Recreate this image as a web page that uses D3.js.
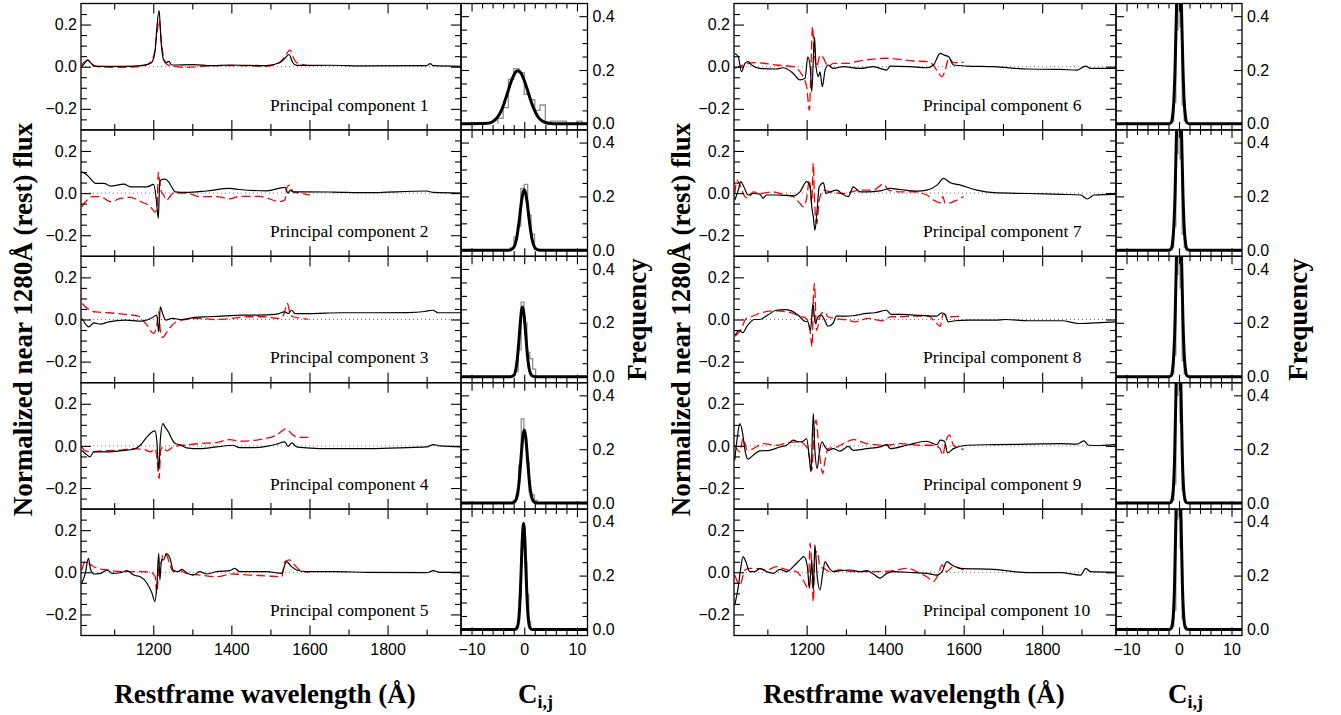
<!DOCTYPE html>
<html>
<head>
<meta charset="utf-8">
<script src="https://cdn.jsdelivr.net/npm/d3@7"></script>
<style>
  body { margin: 0; background: #fff; }
  svg { display: block; }
</style>
</head>
<body>
<svg id="pcaFigure" width="1341" height="715"></svg>
<script>
// ---- spectra: [restframe wavelength (A), normalized flux] ----
const pc1Black = [[1017,0.0],[1025,0.018],[1032,0.032],[1040,0.018],[1048,0.003],[1100,0.002],[1150,0.003],[1184,0.01],[1196,0.02],[1205,0.08],[1209,0.18],[1215,0.266],[1220,0.12],[1226,0.035],[1234,0.02],[1240,0.025],[1247,0.008],[1302,0.01],[1350,0.005],[1396,0.008],[1490,0.005],[1524,0.02],[1537,0.04],[1548,0.058],[1557,0.02],[1567,0.006],[1652,0.007],[1746,0.004],[1900,0.005],[1909,0.015],[1917,0.005],[1988,0.002]];
const pc1Red = [[1017,0.01],[1032,0.03],[1045,0.01],[1057,0.0],[1091,-0.003],[1150,-0.002],[1184,0.01],[1201,0.05],[1209,0.15],[1215,0.22],[1222,0.1],[1230,0.02],[1243,0.005],[1285,-0.003],[1353,0.005],[1404,0.005],[1490,0.002],[1524,0.02],[1541,0.06],[1550,0.08],[1557,0.05],[1567,0.02],[1584,0.01],[1597,0.005]];

const pc2Black = [[1017,0.101],[1031,0.085],[1053,0.046],[1074,0.046],[1091,0.033],[1125,0.043],[1142,0.03],[1184,0.03],[1201,0.041],[1208,-0.033],[1213,-0.12],[1216,0.03],[1219,0.062],[1230,0.066],[1239,0.054],[1247,0.03],[1256,0.006],[1285,0.003],[1336,0.01],[1396,0.022],[1421,0.017],[1490,0.011],[1537,0.027],[1545,0.0],[1551,0.014],[1558,0.006],[1575,0.006],[1660,0.005],[1745,0.002],[1900,0.01],[1917,0.003],[1988,0.0]];
const pc2Red = [[1017,-0.065],[1031,-0.033],[1044,-0.017],[1065,-0.017],[1091,-0.041],[1116,-0.025],[1142,-0.02],[1167,-0.04],[1193,-0.065],[1205,-0.09],[1210,-0.06],[1213,0.1],[1216,0.06],[1219,0.014],[1226,-0.008],[1234,-0.033],[1243,-0.016],[1251,0.0],[1285,0.0],[1319,-0.017],[1362,-0.017],[1396,-0.027],[1421,-0.016],[1472,-0.016],[1524,-0.04],[1537,-0.032],[1543,0.03],[1549,0.038],[1558,0.006],[1575,0.0],[1601,-0.01]];

const pc3Black = [[1018,0.005],[1035,-0.035],[1048,-0.016],[1065,-0.022],[1086,-0.011],[1128,-0.003],[1171,-0.008],[1197,0.008],[1209,0.021],[1214,-0.059],[1218,0.06],[1224,0.028],[1232,-0.003],[1248,0.005],[1273,0.0],[1307,0.01],[1341,0.013],[1384,0.017],[1427,0.021],[1469,0.021],[1512,0.024],[1537,0.036],[1546,0.028],[1554,0.044],[1563,0.028],[1597,0.028],[1682,0.032],[1767,0.032],[1852,0.033],[1895,0.038],[1916,0.044],[1929,0.032],[1988,0.032]];
const pc3Red = [[1018,0.076],[1035,0.047],[1052,0.036],[1086,0.032],[1128,0.024],[1162,0.016],[1184,-0.027],[1201,-0.066],[1209,-0.027],[1214,0.036],[1218,-0.05],[1224,-0.085],[1235,-0.06],[1248,-0.027],[1273,-0.003],[1316,0.005],[1358,0.0],[1401,0.005],[1443,0.013],[1486,0.013],[1520,0.005],[1533,0.02],[1544,0.076],[1550,0.028],[1558,0.013],[1580,0.005],[1597,0.002]];

const pc4Black = [[1017,-0.021],[1026,-0.036],[1038,-0.052],[1048,-0.028],[1082,-0.028],[1125,-0.021],[1150,-0.016],[1167,0.003],[1184,0.043],[1197,0.066],[1204,0.071],[1209,0.027],[1214,-0.116],[1218,0.027],[1225,0.106],[1230,0.09],[1239,0.066],[1247,0.035],[1256,0.011],[1273,0.003],[1285,-0.009],[1319,-0.013],[1362,-0.005],[1404,0.003],[1421,-0.008],[1455,-0.008],[1490,-0.002],[1515,0.008],[1537,0.019],[1545,-0.002],[1555,0.014],[1567,-0.005],[1592,-0.009],[1660,-0.013],[1745,-0.013],[1830,-0.009],[1900,-0.005],[1917,0.006],[1934,0.0],[1988,-0.005]];
const pc4Red = [[1017,-0.005],[1026,-0.024],[1040,-0.028],[1065,-0.024],[1108,-0.021],[1150,-0.013],[1176,-0.017],[1193,-0.028],[1205,-0.013],[1209,-0.052],[1215,-0.155],[1219,-0.021],[1225,-0.005],[1234,-0.024],[1251,-0.005],[1277,0.003],[1319,0.011],[1362,0.016],[1396,0.03],[1421,0.022],[1472,0.03],[1515,0.051],[1532,0.074],[1541,0.082],[1550,0.066],[1558,0.051],[1575,0.04],[1597,0.04]];

const pc5Black = [[1017,-0.052],[1026,-0.005],[1034,0.066],[1040,0.011],[1048,-0.008],[1065,-0.005],[1082,0.011],[1095,-0.005],[1116,-0.002],[1133,0.008],[1150,-0.013],[1167,-0.021],[1184,-0.052],[1197,-0.1],[1204,-0.139],[1209,-0.068],[1214,0.09],[1217,-0.036],[1221,0.059],[1226,0.059],[1234,0.087],[1243,0.066],[1251,0.011],[1264,0.003],[1273,0.014],[1285,-0.002],[1302,-0.013],[1319,0.003],[1336,-0.008],[1362,0.003],[1396,0.008],[1409,0.019],[1421,0.003],[1490,0.003],[1529,-0.005],[1541,0.051],[1554,0.027],[1567,0.011],[1592,0.003],[1660,0.003],[1745,0.0],[1900,-0.002],[1917,0.008],[1934,0.0],[1988,0.0]];
const pc5Red = [[1017,0.011],[1026,0.051],[1040,0.035],[1057,0.019],[1082,0.011],[1116,0.003],[1167,0.003],[1193,0.0],[1205,-0.021],[1209,-0.1],[1215,0.027],[1219,0.035],[1226,0.09],[1234,0.082],[1243,0.035],[1251,0.003],[1268,0.008],[1285,-0.005],[1319,-0.013],[1362,-0.021],[1404,-0.008],[1447,-0.013],[1490,-0.017],[1529,-0.021],[1537,0.051],[1549,0.059],[1558,0.043],[1575,0.011],[1597,0.0]];

const pc6Black = [[1017,0.063],[1026,0.047],[1034,-0.024],[1043,0.016],[1051,0.024],[1060,0.008],[1081,-0.008],[1123,-0.011],[1140,-0.005],[1166,-0.032],[1183,-0.063],[1196,-0.055],[1203,0.047],[1209,0.0],[1213,-0.119],[1217,0.032],[1220,0.142],[1224,0.0],[1230,-0.047],[1234,-0.024],[1240,-0.095],[1247,-0.016],[1255,0.008],[1268,-0.008],[1294,0.0],[1336,-0.008],[1370,0.0],[1404,-0.016],[1413,0.003],[1464,0.0],[1506,-0.005],[1523,0.008],[1540,0.063],[1551,0.055],[1562,0.047],[1574,0.008],[1609,0.003],[1677,0.0],[1762,-0.011],[1847,-0.013],[1889,-0.016],[1911,0.003],[1923,-0.008],[1990,-0.008]];
const pc6Red = [[1017,-0.008],[1038,0.008],[1072,0.019],[1123,0.008],[1166,0.0],[1183,-0.024],[1200,-0.095],[1207,-0.206],[1210,-0.079],[1215,0.19],[1219,0.079],[1226,0.0],[1234,0.055],[1243,0.04],[1255,0.0],[1268,0.016],[1302,0.016],[1336,0.028],[1404,0.04],[1472,0.027],[1506,0.024],[1523,0.008],[1536,-0.032],[1545,-0.047],[1553,-0.016],[1562,0.04],[1574,0.019],[1600,0.021]];

const pc7Black = [[1017,-0.033],[1026,0.014],[1032,0.054],[1040,0.03],[1051,-0.009],[1064,-0.002],[1081,-0.005],[1089,-0.025],[1098,-0.009],[1123,-0.009],[1166,-0.013],[1183,0.006],[1200,0.054],[1209,0.03],[1213,-0.065],[1217,-0.112],[1221,-0.176],[1226,-0.097],[1232,0.03],[1243,0.049],[1249,-0.002],[1260,0.006],[1277,0.014],[1289,-0.002],[1306,-0.017],[1319,0.03],[1336,0.006],[1353,0.006],[1387,0.011],[1413,0.022],[1438,0.017],[1481,0.009],[1506,0.014],[1532,0.038],[1549,0.07],[1566,0.049],[1592,0.038],[1634,0.014],[1677,0.002],[1762,-0.002],[1847,-0.006],[1898,-0.009],[1915,-0.028],[1932,-0.009],[1990,-0.006]];
const pc7Red = [[1017,-0.002],[1023,0.062],[1030,0.038],[1043,-0.017],[1051,-0.025],[1064,0.006],[1081,-0.002],[1115,0.006],[1140,-0.006],[1166,-0.017],[1183,-0.049],[1191,-0.065],[1200,-0.025],[1207,0.062],[1213,-0.049],[1217,0.141],[1220,-0.033],[1226,-0.144],[1232,-0.033],[1243,0.014],[1260,0.006],[1294,-0.002],[1336,0.014],[1370,0.014],[1396,0.043],[1409,0.014],[1438,0.006],[1472,0.006],[1506,-0.009],[1523,-0.033],[1540,-0.046],[1547,-0.017],[1553,-0.049],[1566,-0.046],[1583,-0.033],[1600,-0.017]];

const pc8Black = [[1018,-0.074],[1029,-0.051],[1037,-0.063],[1050,-0.027],[1067,0.0],[1080,0.0],[1101,0.021],[1122,0.044],[1144,0.047],[1161,0.041],[1178,0.021],[1195,-0.008],[1203,-0.011],[1210,-0.051],[1216,0.076],[1222,-0.019],[1229,0.013],[1237,0.021],[1246,-0.003],[1254,-0.032],[1267,-0.019],[1276,0.016],[1297,0.016],[1323,0.019],[1348,0.028],[1374,0.032],[1403,0.044],[1416,0.024],[1442,0.024],[1476,0.021],[1510,0.017],[1531,0.016],[1544,0.032],[1552,0.025],[1561,-0.011],[1578,-0.006],[1612,-0.003],[1680,-0.003],[1706,0.0],[1765,-0.006],[1850,-0.006],[1893,-0.019],[1936,-0.016],[1988,-0.011]];
const pc8Red = [[1018,-0.079],[1033,-0.047],[1046,0.005],[1059,0.013],[1084,0.032],[1118,0.041],[1152,0.036],[1182,0.016],[1199,0.005],[1208,-0.043],[1214,-0.13],[1217,0.092],[1220,0.171],[1225,-0.051],[1237,0.028],[1246,0.036],[1254,0.013],[1271,0.005],[1306,-0.003],[1323,-0.011],[1357,0.005],[1391,-0.006],[1416,0.013],[1442,0.013],[1476,0.016],[1510,0.016],[1527,-0.011],[1540,-0.032],[1548,0.028],[1561,0.013],[1595,0.016]];

const pc9Black = [[1017,-0.068],[1023,0.035],[1030,0.106],[1037,0.059],[1043,-0.021],[1051,-0.063],[1064,-0.044],[1081,-0.024],[1106,-0.021],[1132,-0.005],[1149,0.003],[1166,0.027],[1179,0.019],[1191,0.022],[1200,0.035],[1207,-0.06],[1211,-0.123],[1217,0.153],[1221,-0.021],[1227,-0.108],[1232,-0.036],[1239,0.019],[1247,-0.005],[1255,-0.021],[1268,-0.013],[1285,-0.025],[1306,-0.002],[1319,-0.021],[1353,-0.013],[1387,-0.005],[1404,0.006],[1413,-0.013],[1455,0.003],[1506,0.022],[1532,0.006],[1540,0.027],[1551,0.022],[1559,-0.033],[1574,-0.013],[1609,0.003],[1677,0.006],[1762,0.008],[1847,0.011],[1889,0.008],[1906,0.024],[1919,0.003],[1949,0.002],[1990,0.006]];
const pc9Red = [[1017,0.003],[1030,-0.028],[1038,0.035],[1049,-0.021],[1064,-0.013],[1089,0.011],[1123,0.003],[1149,0.014],[1183,0.019],[1200,-0.005],[1207,-0.052],[1213,-0.116],[1219,0.059],[1224,0.122],[1231,-0.005],[1236,-0.084],[1241,-0.131],[1247,-0.068],[1255,-0.013],[1277,-0.005],[1294,0.011],[1319,0.03],[1353,0.011],[1404,0.003],[1438,0.011],[1489,0.003],[1523,0.003],[1540,-0.013],[1547,-0.044],[1553,0.011],[1564,0.051],[1574,0.003],[1591,-0.013],[1600,-0.016]];

const pc10Black = [[1017,-0.155],[1026,-0.068],[1031,0.003],[1038,0.074],[1045,0.051],[1055,0.003],[1068,0.003],[1081,0.019],[1098,0.003],[1115,-0.005],[1132,0.014],[1149,0.003],[1166,0.027],[1183,0.059],[1193,0.074],[1202,0.027],[1207,-0.076],[1213,0.059],[1217,-0.084],[1221,0.13],[1227,-0.021],[1234,-0.084],[1241,-0.005],[1247,0.051],[1255,0.027],[1268,0.003],[1285,0.008],[1311,0.011],[1336,0.003],[1353,0.008],[1370,-0.008],[1387,-0.028],[1404,-0.005],[1421,0.003],[1472,-0.002],[1506,-0.005],[1532,-0.013],[1545,0.003],[1557,0.051],[1570,0.035],[1591,0.019],[1677,0.014],[1762,-0.002],[1847,-0.002],[1898,-0.013],[1911,0.019],[1923,0.003],[1990,0.0]];
const pc10Red = [[1017,-0.013],[1030,-0.06],[1043,0.011],[1055,0.019],[1072,0.019],[1098,0.011],[1123,0.027],[1149,0.011],[1174,0.003],[1191,-0.036],[1204,-0.076],[1209,0.138],[1213,0.027],[1217,-0.139],[1221,0.09],[1227,0.098],[1234,0.027],[1243,0.019],[1260,0.003],[1285,0.011],[1319,0.003],[1353,0.003],[1387,0.003],[1421,0.008],[1455,0.019],[1489,-0.005],[1506,-0.021],[1523,-0.044],[1536,-0.005],[1545,0.035],[1556,0.003],[1574,0.027],[1591,0.019],[1600,0.011]];

// ---- coefficient histograms: [left bin edge, frequency]; last entry closes the last bin ----
const pc1Hist = [[-5,0.02],[-4,0.06],[-3,0.165],[-2,0.205],[-1,0.19],[0,0.11],[1,0.09],[2,0.05],[3,0.07],[4,0.005],[5,0.01],[6,0.01],[7,0.01],[8,0.0],[9,0.0],[10,0.01],[11,0.0]];
const pc2Hist = [[-2.6,0.01],[-1.95,0.05],[-1.3,0.09],[-0.65,0.23],[0,0.245],[0.65,0.13],[1.3,0.06],[1.95,0]];
const pc3Hist = [[-2.25,0.005],[-1.7,0.02],[-1.15,0.1],[-0.6,0.277],[-0.05,0.2],[0.5,0.09],[1.05,0.067],[1.6,0.028],[2.15,0]];
const pc4Hist = [[-2.07,0.01],[-1.57,0.03],[-1.07,0.14],[-0.57,0.313],[-0.07,0.24],[0.43,0.15],[0.93,0.04],[1.43,0.03],[1.93,0.01],[2.43,0]];
const pc5Hist = [[-1.6,0.01],[-1.25,0.03],[-0.9,0.12],[-0.55,0.3],[-0.2,0.38],[0.15,0.25],[0.5,0.13],[0.85,0.03],[1.2,0]];
const pc6Hist = [[-1.4,0.01],[-1.0,0.08],[-0.6,0.35],[-0.2,0.72],[0.2,0.36],[0.6,0.07],[1.0,0.01],[1.4,0]];
const pc7Hist = [[-1.4,0.01],[-1.0,0.09],[-0.6,0.36],[-0.2,0.74],[0.2,0.34],[0.6,0.06],[1.0,0.01],[1.4,0]];
const pc8Hist = [[-1.4,0.01],[-1.0,0.08],[-0.6,0.38],[-0.2,0.76],[0.2,0.33],[0.6,0.06],[1.0,0.01],[1.4,0]];
const pc9Hist = [[-1.4,0.01],[-1.0,0.07],[-0.6,0.4],[-0.2,0.8],[0.2,0.3],[0.6,0.05],[1.0,0.01],[1.4,0]];
const pc10Hist = [[-1.4,0.01],[-1.0,0.07],[-0.6,0.41],[-0.2,0.82],[0.2,0.3],[0.6,0.04],[1.0,0.01],[1.4,0]];

// ---- fitted curves over the histograms: [C_ij, frequency] ----
const pc1Fit = [[-12,0],[-7,0.002],[-6,0.008],[-5,0.027],[-4.5,0.043],[-4,0.066],[-3.5,0.095],[-3,0.126],[-2.5,0.156],[-2,0.18],[-1.6,0.193],[-1.2,0.197],[-0.6,0.188],[0,0.161],[0.5,0.132],[1,0.101],[1.5,0.072],[2,0.048],[2.5,0.029],[3,0.017],[4,0.005],[5,0.001],[6,0],[12,0]];
const pc2Fit = [[-12,0],[-3,0],[-2.5,0.002],[-2,0.01],[-1.5,0.039],[-1,0.103],[-0.5,0.185],[0,0.225],[0.5,0.185],[1,0.103],[1.5,0.039],[2,0.01],[2.5,0.002],[3,0],[12,0]];
const pc3Fit = [[-12,0],[-2.6,0],[-2,0.005],[-1.5,0.038],[-1.25,0.078],[-1,0.137],[-0.75,0.2],[-0.5,0.248],[-0.32,0.259],[0,0.225],[0.25,0.165],[0.5,0.102],[0.75,0.053],[1,0.023],[1.5,0.003],[2,0],[12,0]];
const pc4Fit = [[-12,0],[-2.5,0],[-2,0.002],[-1.5,0.015],[-1.25,0.036],[-1,0.074],[-0.75,0.131],[-0.5,0.196],[-0.25,0.25],[0,0.271],[0.25,0.25],[0.5,0.196],[0.75,0.131],[1,0.074],[1.25,0.036],[1.5,0.015],[2,0.002],[2.5,0],[12,0]];
const pc5Fit = [[-12,0],[-1.8,0],[-1.38,0.005],[-1.13,0.023],[-0.88,0.08],[-0.63,0.194],[-0.38,0.33],[-0.13,0.394],[0.12,0.33],[0.37,0.194],[0.62,0.08],[0.87,0.023],[1.12,0.005],[1.5,0],[12,0]];
const pc6Fit = [[-12,0],[-2,0],[-1.5,0.005],[-1.25,0.024],[-1,0.08],[-0.75,0.207],[-0.5,0.41],[-0.25,0.61],[0,0.7],[0.25,0.61],[0.5,0.41],[0.75,0.207],[1,0.08],[1.25,0.024],[1.5,0.005],[2,0],[12,0]];
const pc7Fit = [[-12,0],[-2,0],[-1.5,0.005],[-1.25,0.025],[-1,0.082],[-0.75,0.212],[-0.5,0.42],[-0.25,0.63],[0,0.72],[0.25,0.63],[0.5,0.42],[0.75,0.212],[1,0.082],[1.25,0.025],[1.5,0.005],[2,0],[12,0]];
const pc8Fit = [[-12,0],[-2,0],[-1.5,0.004],[-1.25,0.022],[-1,0.078],[-0.75,0.21],[-0.5,0.43],[-0.25,0.65],[0,0.75],[0.25,0.65],[0.5,0.43],[0.75,0.21],[1,0.078],[1.25,0.022],[1.5,0.004],[2,0],[12,0]];
const pc9Fit = [[-12,0],[-1.9,0],[-1.6,0.002],[-1.35,0.011],[-1.1,0.047],[-0.85,0.16],[-0.6,0.39],[-0.35,0.67],[-0.1,0.8],[0.15,0.67],[0.4,0.39],[0.65,0.16],[0.9,0.047],[1.15,0.011],[1.4,0.002],[1.8,0],[12,0]];
const pc10Fit = [[-12,0],[-1.9,0],[-1.6,0.002],[-1.35,0.011],[-1.1,0.048],[-0.85,0.165],[-0.6,0.4],[-0.35,0.68],[-0.1,0.82],[0.15,0.68],[0.4,0.4],[0.65,0.165],[0.9,0.048],[1.15,0.011],[1.4,0.002],[1.8,0],[12,0]];

const componentLabels = ['Principal component 1','Principal component 2','Principal component 3','Principal component 4','Principal component 5',
                         'Principal component 6','Principal component 7','Principal component 8','Principal component 9','Principal component 10'];

const specTicksMajor = [1200, 1400, 1600, 1800];
const specTicksMinor = [1100, 1300, 1500, 1700, 1900];
const fluxTicksMajor = [-0.2, 0, 0.2];
const fluxTicksMinor = [-0.25, -0.15, -0.1, -0.05, 0.05, 0.1, 0.15, 0.25];
const coefTicksMajor = [-10, 0, 10];
const coefTicksMinor = [-8, -6, -4, -2, 2, 4, 6, 8];
const freqTicksMajor = [0, 0.2, 0.4];
const freqTicksMinor = [0.05, 0.1, 0.15, 0.25, 0.3, 0.35];

const components = [
    { black: pc1Black, red: pc1Red, hist: pc1Hist, fit: pc1Fit },
    { black: pc2Black, red: pc2Red, hist: pc2Hist, fit: pc2Fit },
    { black: pc3Black, red: pc3Red, hist: pc3Hist, fit: pc3Fit },
    { black: pc4Black, red: pc4Red, hist: pc4Hist, fit: pc4Fit },
    { black: pc5Black, red: pc5Red, hist: pc5Hist, fit: pc5Fit },
    { black: pc6Black, red: pc6Red, hist: pc6Hist, fit: pc6Fit },
    { black: pc7Black, red: pc7Red, hist: pc7Hist, fit: pc7Fit },
    { black: pc8Black, red: pc8Red, hist: pc8Hist, fit: pc8Fit },
    { black: pc9Black, red: pc9Red, hist: pc9Hist, fit: pc9Fit },
    { black: pc10Black, red: pc10Red, hist: pc10Hist, fit: pc10Fit },
].map((c, i) => ({ ...c, label: componentLabels[i] }));

// ---- layout ----
const svg = d3.select('svg#pcaFigure');
const SANS = "'Liberation Sans', Arial, Helvetica, sans-serif";
const SERIF = "'Liberation Serif', 'Times New Roman', Times, serif";
const rowTop = 3.5, rowH = 126.4, nRows = 5;

const blocks = [
    { specX: 81,  specW: 380, histW: 126.5, comps: components.slice(0, 5),
      yTitleX: 32, freqX: 646, xTitleX: 265, cTitleX: 518 },
    { specX: 734, specW: 382, histW: 126,   comps: components.slice(5),
      yTitleX: 690, freqX: 1307, xTitleX: 914, cTitleX: 1168 },
];

const fmtFlux = d3.format('.1f');

// inward ticks: negative tick size puts the tick inside the frame
function inwardTicks(g, axis, values, size, fmt, pad) {
    g.call(axis.tickValues(values).tickSize(-size).tickSizeOuter(0)
               .tickPadding(pad || 4).tickFormat(fmt || (() => '')));
    g.select('.domain').remove();
    g.selectAll('line').attr('stroke', '#000').attr('stroke-width', 1.1);
    g.attr('font-family', SANS).attr('font-size', 16);
    g.selectAll('text').attr('fill', '#000');
}

let clipId = 0;
function addClip(x, y, w, h) {
    const id = 'clip' + (clipId++);
    svg.append('clipPath').attr('id', id)
        .append('rect').attr('x', x).attr('y', y).attr('width', w).attr('height', h);
    return `url(#${id})`;
}

blocks.forEach(b => {
    const histX = b.specX + b.specW;

    b.comps.forEach((comp, r) => {
        const y0 = rowTop + r * rowH;
        const last = r === nRows - 1;

        // ----- spectrum panel -----
        const x = d3.scaleLinear().domain([1015, 1988]).range([b.specX, b.specX + b.specW]);
        const y = d3.scaleLinear().domain([-0.3, 0.3]).range([y0 + rowH, y0]);
        const clip = addClip(b.specX, y0, b.specW, rowH);
        const g = svg.append('g');

        g.append('line')
            .attr('x1', x.range()[0]).attr('x2', x.range()[1])
            .attr('y1', y(0)).attr('y2', y(0))
            .attr('stroke', '#777').attr('stroke-width', 1)
            .attr('stroke-dasharray', '1,3');

        const line = d3.line().curve(d3.curveMonotoneX).x(d => x(d[0])).y(d => y(d[1]));
        g.append('path').datum(comp.red)
            .attr('clip-path', clip)
            .attr('fill', 'none').attr('stroke', '#f00').attr('stroke-width', 1.3)
            .attr('stroke-dasharray', '9,4')
            .attr('d', line);
        g.append('path').datum(comp.black)
            .attr('clip-path', clip)
            .attr('fill', 'none').attr('stroke', '#000').attr('stroke-width', 1.2)
            .attr('d', line);

        g.append('text')
            .attr('x', b.specX + 189).attr('y', y0 + 107)
            .attr('font-family', SERIF).attr('font-size', 17.5)
            .text(comp.label);

        inwardTicks(g.append('g').attr('transform', `translate(${b.specX},0)`),
            d3.axisLeft(y), fluxTicksMajor, 10, d => d === 0 ? '0.0' : fmtFlux(d), 4);
        inwardTicks(g.append('g').attr('transform', `translate(${b.specX},0)`),
            d3.axisLeft(y), fluxTicksMinor, 6);
        inwardTicks(g.append('g').attr('transform', `translate(${histX},0)`),
            d3.axisRight(y), fluxTicksMajor, 10);
        inwardTicks(g.append('g').attr('transform', `translate(${histX},0)`),
            d3.axisRight(y), fluxTicksMinor, 6);
        inwardTicks(g.append('g').attr('transform', `translate(0,${y0})`),
            d3.axisTop(x), specTicksMajor, 10);
        inwardTicks(g.append('g').attr('transform', `translate(0,${y0})`),
            d3.axisTop(x), specTicksMinor, 6);
        inwardTicks(g.append('g').attr('transform', `translate(0,${y0 + rowH})`),
            d3.axisBottom(x), specTicksMajor, 10, last ? (d => d) : null, 8);
        inwardTicks(g.append('g').attr('transform', `translate(0,${y0 + rowH})`),
            d3.axisBottom(x), specTicksMinor, 6);

        g.append('rect')
            .attr('x', b.specX).attr('y', y0).attr('width', b.specW).attr('height', rowH)
            .attr('fill', 'none').attr('stroke', '#000').attr('stroke-width', 1.3);

        // ----- coefficient histogram panel -----
        const hx = d3.scaleLinear().domain([-12, 12]).range([histX, histX + b.histW]);
        const hy = d3.scaleLinear().domain([-0.0225, 0.447]).range([y0 + rowH, y0]);
        const hclip = addClip(histX, y0, b.histW, rowH);
        const h = svg.append('g');

        const hist = [[comp.hist[0][0], 0], ...comp.hist];
        h.append('path').datum(hist)
            .attr('clip-path', hclip)
            .attr('fill', 'none').attr('stroke', '#8c8c8c').attr('stroke-width', 1.3)
            .attr('d', d3.line().curve(d3.curveStepAfter).x(d => hx(d[0])).y(d => hy(d[1])));
        h.append('path').datum(comp.fit)
            .attr('clip-path', hclip)
            .attr('fill', 'none').attr('stroke', '#000').attr('stroke-width', 3)
            .attr('stroke-linejoin', 'round')
            .attr('d', d3.line().curve(d3.curveMonotoneX).x(d => hx(d[0])).y(d => hy(d[1])));

        inwardTicks(h.append('g').attr('transform', `translate(${histX},0)`),
            d3.axisLeft(hy), freqTicksMajor, 8);
        inwardTicks(h.append('g').attr('transform', `translate(${histX},0)`),
            d3.axisLeft(hy), freqTicksMinor, 6);
        inwardTicks(h.append('g').attr('transform', `translate(${histX + b.histW},0)`),
            d3.axisRight(hy), freqTicksMajor, 8, fmtFlux, 5);
        inwardTicks(h.append('g').attr('transform', `translate(${histX + b.histW},0)`),
            d3.axisRight(hy), freqTicksMinor, 5);
        inwardTicks(h.append('g').attr('transform', `translate(0,${y0})`),
            d3.axisTop(hx), coefTicksMajor, 8);
        inwardTicks(h.append('g').attr('transform', `translate(0,${y0})`),
            d3.axisTop(hx), coefTicksMinor, 5);
        inwardTicks(h.append('g').attr('transform', `translate(0,${y0 + rowH})`),
            d3.axisBottom(hx), coefTicksMajor, 8, last ? d3.format('d') : null, 8);
        inwardTicks(h.append('g').attr('transform', `translate(0,${y0 + rowH})`),
            d3.axisBottom(hx), coefTicksMinor, 5);

        h.append('rect')
            .attr('x', histX).attr('y', y0).attr('width', b.histW).attr('height', rowH)
            .attr('fill', 'none').attr('stroke', '#000').attr('stroke-width', 1.3);
    });

    // ----- axis titles -----
    const midY = rowTop + nRows * rowH / 2;
    svg.append('text')
        .attr('transform', `translate(${b.yTitleX},${midY}) rotate(-90)`)
        .attr('text-anchor', 'middle')
        .attr('font-family', SERIF).attr('font-weight', 'bold').attr('font-size', 27)
        .text('Normalized near 1280Å (rest) flux');
    svg.append('text')
        .attr('transform', `translate(${b.freqX},${midY}) rotate(-90)`)
        .attr('text-anchor', 'middle')
        .attr('font-family', SERIF).attr('font-weight', 'bold').attr('font-size', 27)
        .text('Frequency');
    svg.append('text')
        .attr('x', b.xTitleX).attr('y', 703)
        .attr('text-anchor', 'middle')
        .attr('font-family', SERIF).attr('font-weight', 'bold').attr('font-size', 27)
        .text('Restframe wavelength (Å)');
    const ct = svg.append('text')
        .attr('x', b.cTitleX).attr('y', 703)
        .attr('font-family', SERIF).attr('font-weight', 'bold').attr('font-size', 27);
    ct.append('tspan').text('C');
    ct.append('tspan').attr('font-size', 18).attr('dy', 5).text('i,j');
});
</script>
</body>
</html>
